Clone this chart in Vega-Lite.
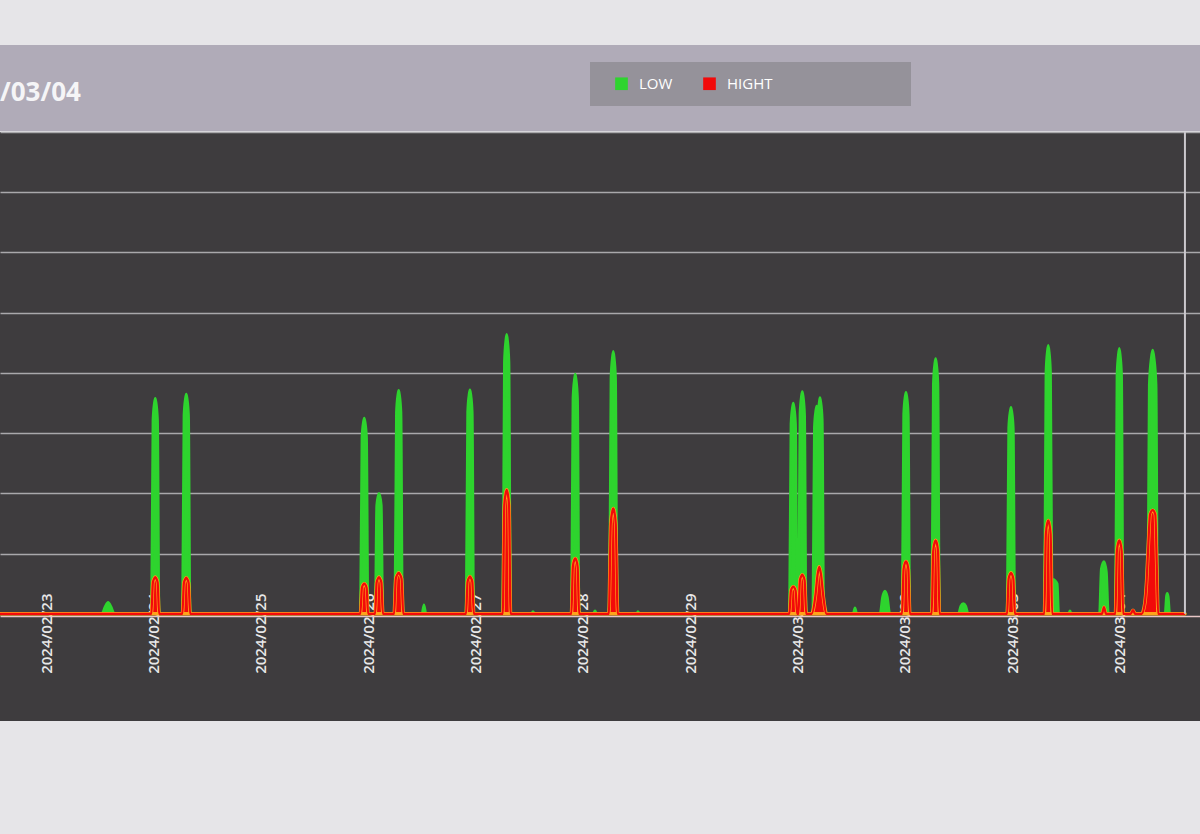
{
  "$schema": "https://vega.github.io/schema/vega-lite/v6.json",
  "background": "#e6e5e8",
  "padding": {"top": 45, "left": 0, "right": 0, "bottom": 114},
  "spacing": 0,
  "config": {"font": "Open Sans", "view": {"stroke": null}},
  "datasets": {
    "low": [
      {"t": "2024-02-22T12:00", "v": 0},
      {"t": "2024-02-23T12:25", "v": 0}, {"t": "2024-02-23T13:10", "v": 12}, {"t": "2024-02-23T13:50", "v": 19}, {"t": "2024-02-23T14:30", "v": 12}, {"t": "2024-02-23T15:15", "v": 0},
      {"t": "2024-02-23T23:31", "v": 0}, {"t": "2024-02-23T23:51", "v": 322}, {"t": "2024-02-24T00:11", "v": 351}, {"t": "2024-02-24T00:23", "v": 358}, {"t": "2024-02-24T00:35", "v": 351}, {"t": "2024-02-24T00:55", "v": 322}, {"t": "2024-02-24T01:15", "v": 0},
      {"t": "2024-02-24T06:27", "v": 0}, {"t": "2024-02-24T06:47", "v": 329}, {"t": "2024-02-24T07:07", "v": 358}, {"t": "2024-02-24T07:19", "v": 365}, {"t": "2024-02-24T07:31", "v": 358}, {"t": "2024-02-24T07:51", "v": 329}, {"t": "2024-02-24T08:11", "v": 0},
      {"t": "2024-02-25T22:15", "v": 0}, {"t": "2024-02-25T22:35", "v": 293}, {"t": "2024-02-25T22:55", "v": 319}, {"t": "2024-02-25T23:07", "v": 325}, {"t": "2024-02-25T23:19", "v": 319}, {"t": "2024-02-25T23:39", "v": 293}, {"t": "2024-02-25T23:59", "v": 0},
      {"t": "2024-02-26T01:33", "v": 0}, {"t": "2024-02-26T01:53", "v": 180}, {"t": "2024-02-26T02:13", "v": 196}, {"t": "2024-02-26T02:25", "v": 200}, {"t": "2024-02-26T02:37", "v": 196}, {"t": "2024-02-26T02:57", "v": 180}, {"t": "2024-02-26T03:17", "v": 0},
      {"t": "2024-02-26T05:57", "v": 0}, {"t": "2024-02-26T06:17", "v": 334}, {"t": "2024-02-26T06:37", "v": 364}, {"t": "2024-02-26T06:49", "v": 371}, {"t": "2024-02-26T07:01", "v": 364}, {"t": "2024-02-26T07:21", "v": 334}, {"t": "2024-02-26T07:41", "v": 0},
      {"t": "2024-02-26T12:00", "v": 0}, {"t": "2024-02-26T12:28", "v": 15}, {"t": "2024-02-26T12:56", "v": 0},
      {"t": "2024-02-26T21:53", "v": 0}, {"t": "2024-02-26T22:13", "v": 335}, {"t": "2024-02-26T22:33", "v": 365}, {"t": "2024-02-26T22:45", "v": 372}, {"t": "2024-02-26T22:57", "v": 365}, {"t": "2024-02-26T23:17", "v": 335}, {"t": "2024-02-26T23:37", "v": 0},
      {"t": "2024-02-27T06:06", "v": 0}, {"t": "2024-02-27T06:26", "v": 418}, {"t": "2024-02-27T06:46", "v": 455}, {"t": "2024-02-27T06:58", "v": 464}, {"t": "2024-02-27T07:10", "v": 455}, {"t": "2024-02-27T07:30", "v": 418}, {"t": "2024-02-27T07:50", "v": 0},
      {"t": "2024-02-27T12:30", "v": 0}, {"t": "2024-02-27T12:51", "v": 4}, {"t": "2024-02-27T13:12", "v": 0},
      {"t": "2024-02-27T21:26", "v": 0}, {"t": "2024-02-27T21:46", "v": 358}, {"t": "2024-02-27T22:06", "v": 390}, {"t": "2024-02-27T22:18", "v": 398}, {"t": "2024-02-27T22:30", "v": 390}, {"t": "2024-02-27T22:50", "v": 358}, {"t": "2024-02-27T23:10", "v": 0},
      {"t": "2024-02-28T02:20", "v": 0}, {"t": "2024-02-28T02:43", "v": 5}, {"t": "2024-02-28T03:06", "v": 0},
      {"t": "2024-02-28T05:56", "v": 0}, {"t": "2024-02-28T06:16", "v": 392}, {"t": "2024-02-28T06:36", "v": 427}, {"t": "2024-02-28T06:48", "v": 436}, {"t": "2024-02-28T07:00", "v": 427}, {"t": "2024-02-28T07:20", "v": 392}, {"t": "2024-02-28T07:40", "v": 0},
      {"t": "2024-02-28T12:00", "v": 0}, {"t": "2024-02-28T12:19", "v": 4}, {"t": "2024-02-28T12:40", "v": 0},
      {"t": "2024-02-29T22:11", "v": 0}, {"t": "2024-02-29T22:31", "v": 315}, {"t": "2024-02-29T22:51", "v": 343}, {"t": "2024-02-29T23:03", "v": 350}, {"t": "2024-02-29T23:15", "v": 343}, {"t": "2024-02-29T23:35", "v": 315}, {"t": "2024-02-29T23:55", "v": 0},
      {"t": "2024-03-01T00:12", "v": 0}, {"t": "2024-03-01T00:32", "v": 332}, {"t": "2024-03-01T00:52", "v": 362}, {"t": "2024-03-01T01:04", "v": 369}, {"t": "2024-03-01T01:16", "v": 362}, {"t": "2024-03-01T01:36", "v": 332}, {"t": "2024-03-01T01:56", "v": 0},
      {"t": "2024-03-01T03:25", "v": 0}, {"t": "2024-03-01T03:45", "v": 310}, {"t": "2024-03-01T04:05", "v": 338}, {"t": "2024-03-01T04:17", "v": 345}, {"t": "2024-03-01T04:32", "v": 332}, {"t": "2024-03-01T04:47", "v": 348}, {"t": "2024-03-01T05:01", "v": 359}, {"t": "2024-03-01T05:13", "v": 352}, {"t": "2024-03-01T05:33", "v": 323}, {"t": "2024-03-01T05:53", "v": 0},
      {"t": "2024-03-01T12:25", "v": 0}, {"t": "2024-03-01T12:51", "v": 10}, {"t": "2024-03-01T13:17", "v": 0},
      {"t": "2024-03-01T18:26", "v": 0}, {"t": "2024-03-01T19:00", "v": 28}, {"t": "2024-03-01T19:33", "v": 38}, {"t": "2024-03-01T20:06", "v": 28}, {"t": "2024-03-01T20:40", "v": 0},
      {"t": "2024-03-01T23:23", "v": 0}, {"t": "2024-03-01T23:43", "v": 331}, {"t": "2024-03-02T00:03", "v": 361}, {"t": "2024-03-02T00:15", "v": 368}, {"t": "2024-03-02T00:27", "v": 361}, {"t": "2024-03-02T00:47", "v": 331}, {"t": "2024-03-02T01:07", "v": 0},
      {"t": "2024-03-02T06:01", "v": 0}, {"t": "2024-03-02T06:21", "v": 382}, {"t": "2024-03-02T06:41", "v": 416}, {"t": "2024-03-02T06:53", "v": 424}, {"t": "2024-03-02T07:05", "v": 416}, {"t": "2024-03-02T07:25", "v": 382}, {"t": "2024-03-02T07:45", "v": 0},
      {"t": "2024-03-02T11:57", "v": 0}, {"t": "2024-03-02T12:30", "v": 13}, {"t": "2024-03-02T13:04", "v": 17}, {"t": "2024-03-02T13:38", "v": 13}, {"t": "2024-03-02T14:11", "v": 0},
      {"t": "2024-03-02T22:52", "v": 0}, {"t": "2024-03-02T23:12", "v": 309}, {"t": "2024-03-02T23:32", "v": 336}, {"t": "2024-03-02T23:44", "v": 343}, {"t": "2024-03-02T23:56", "v": 336}, {"t": "2024-03-03T00:16", "v": 309}, {"t": "2024-03-03T00:36", "v": 0},
      {"t": "2024-03-03T07:12", "v": 0}, {"t": "2024-03-03T07:32", "v": 401}, {"t": "2024-03-03T07:52", "v": 437}, {"t": "2024-03-03T08:04", "v": 446}, {"t": "2024-03-03T08:16", "v": 437}, {"t": "2024-03-03T08:36", "v": 401}, {"t": "2024-03-03T08:54", "v": 58}, {"t": "2024-03-03T09:30", "v": 56}, {"t": "2024-03-03T10:05", "v": 50}, {"t": "2024-03-03T10:25", "v": 0},
      {"t": "2024-03-03T12:35", "v": 0}, {"t": "2024-03-03T12:55", "v": 5}, {"t": "2024-03-03T13:15", "v": 0},
      {"t": "2024-03-03T19:30", "v": 0}, {"t": "2024-03-03T19:55", "v": 75}, {"t": "2024-03-03T20:32", "v": 87}, {"t": "2024-03-03T21:05", "v": 70}, {"t": "2024-03-03T21:32", "v": 0},
      {"t": "2024-03-03T23:05", "v": 0}, {"t": "2024-03-03T23:25", "v": 397}, {"t": "2024-03-03T23:45", "v": 432}, {"t": "2024-03-03T23:57", "v": 441}, {"t": "2024-03-04T00:09", "v": 432}, {"t": "2024-03-04T00:29", "v": 397}, {"t": "2024-03-04T00:49", "v": 0},
      {"t": "2024-03-04T06:18", "v": 0}, {"t": "2024-03-04T06:38", "v": 380}, {"t": "2024-03-04T07:05", "v": 425}, {"t": "2024-03-04T07:25", "v": 438}, {"t": "2024-03-04T07:45", "v": 425}, {"t": "2024-03-04T08:12", "v": 380}, {"t": "2024-03-04T08:32", "v": 0},
      {"t": "2024-03-04T10:10", "v": 0}, {"t": "2024-03-04T10:30", "v": 30}, {"t": "2024-03-04T10:41", "v": 34}, {"t": "2024-03-04T10:55", "v": 28}, {"t": "2024-03-04T11:15", "v": 0},
      {"t": "2024-03-04T14:38", "v": 0}
    ],
    "high": [
      {"t": "2024-02-22T12:00", "v": 0},
      {"t": "2024-02-23T23:31", "v": 0}, {"t": "2024-02-23T23:51", "v": 52}, {"t": "2024-02-24T00:11", "v": 59}, {"t": "2024-02-24T00:23", "v": 61}, {"t": "2024-02-24T00:35", "v": 59}, {"t": "2024-02-24T00:55", "v": 52}, {"t": "2024-02-24T01:15", "v": 0},
      {"t": "2024-02-24T06:27", "v": 0}, {"t": "2024-02-24T06:47", "v": 51}, {"t": "2024-02-24T07:07", "v": 58}, {"t": "2024-02-24T07:19", "v": 60}, {"t": "2024-02-24T07:31", "v": 58}, {"t": "2024-02-24T07:51", "v": 51}, {"t": "2024-02-24T08:11", "v": 0},
      {"t": "2024-02-25T22:15", "v": 0}, {"t": "2024-02-25T22:35", "v": 43}, {"t": "2024-02-25T22:55", "v": 49}, {"t": "2024-02-25T23:07", "v": 50}, {"t": "2024-02-25T23:19", "v": 49}, {"t": "2024-02-25T23:39", "v": 43}, {"t": "2024-02-25T23:59", "v": 0},
      {"t": "2024-02-26T01:33", "v": 0}, {"t": "2024-02-26T01:53", "v": 52}, {"t": "2024-02-26T02:13", "v": 59}, {"t": "2024-02-26T02:25", "v": 61}, {"t": "2024-02-26T02:37", "v": 59}, {"t": "2024-02-26T02:57", "v": 52}, {"t": "2024-02-26T03:17", "v": 0},
      {"t": "2024-02-26T05:48", "v": 0}, {"t": "2024-02-26T06:10", "v": 58}, {"t": "2024-02-26T06:30", "v": 65}, {"t": "2024-02-26T06:49", "v": 68}, {"t": "2024-02-26T07:08", "v": 65}, {"t": "2024-02-26T07:28", "v": 58}, {"t": "2024-02-26T07:50", "v": 0},
      {"t": "2024-02-26T21:53", "v": 0}, {"t": "2024-02-26T22:13", "v": 53}, {"t": "2024-02-26T22:33", "v": 60}, {"t": "2024-02-26T22:45", "v": 62}, {"t": "2024-02-26T22:57", "v": 60}, {"t": "2024-02-26T23:17", "v": 53}, {"t": "2024-02-26T23:37", "v": 0},
      {"t": "2024-02-27T06:06", "v": 0}, {"t": "2024-02-27T06:26", "v": 180}, {"t": "2024-02-27T06:46", "v": 201}, {"t": "2024-02-27T06:58", "v": 206}, {"t": "2024-02-27T07:10", "v": 201}, {"t": "2024-02-27T07:30", "v": 180}, {"t": "2024-02-27T07:50", "v": 0},
      {"t": "2024-02-27T21:26", "v": 0}, {"t": "2024-02-27T21:46", "v": 78}, {"t": "2024-02-27T22:06", "v": 90}, {"t": "2024-02-27T22:18", "v": 92}, {"t": "2024-02-27T22:30", "v": 90}, {"t": "2024-02-27T22:50", "v": 78}, {"t": "2024-02-27T23:10", "v": 0},
      {"t": "2024-02-28T05:48", "v": 0}, {"t": "2024-02-28T06:15", "v": 150}, {"t": "2024-02-28T06:36", "v": 171}, {"t": "2024-02-28T06:48", "v": 175}, {"t": "2024-02-28T07:00", "v": 171}, {"t": "2024-02-28T07:21", "v": 150}, {"t": "2024-02-28T07:48", "v": 0},
      {"t": "2024-02-29T22:11", "v": 0}, {"t": "2024-02-29T22:31", "v": 38}, {"t": "2024-02-29T22:51", "v": 44}, {"t": "2024-02-29T23:03", "v": 45}, {"t": "2024-02-29T23:15", "v": 44}, {"t": "2024-02-29T23:35", "v": 38}, {"t": "2024-02-29T23:55", "v": 0},
      {"t": "2024-03-01T00:12", "v": 0}, {"t": "2024-03-01T00:32", "v": 55}, {"t": "2024-03-01T00:52", "v": 63}, {"t": "2024-03-01T01:04", "v": 65}, {"t": "2024-03-01T01:16", "v": 63}, {"t": "2024-03-01T01:36", "v": 55}, {"t": "2024-03-01T01:56", "v": 0},
      {"t": "2024-03-01T03:10", "v": 0}, {"t": "2024-03-01T04:00", "v": 30}, {"t": "2024-03-01T04:30", "v": 66}, {"t": "2024-03-01T04:52", "v": 78}, {"t": "2024-03-01T05:15", "v": 66}, {"t": "2024-03-01T05:45", "v": 30}, {"t": "2024-03-01T06:30", "v": 0},
      {"t": "2024-03-01T23:23", "v": 0}, {"t": "2024-03-01T23:43", "v": 74}, {"t": "2024-03-02T00:03", "v": 85}, {"t": "2024-03-02T00:15", "v": 87}, {"t": "2024-03-02T00:27", "v": 85}, {"t": "2024-03-02T00:47", "v": 74}, {"t": "2024-03-02T01:07", "v": 0},
      {"t": "2024-03-02T06:01", "v": 0}, {"t": "2024-03-02T06:21", "v": 104}, {"t": "2024-03-02T06:41", "v": 119}, {"t": "2024-03-02T06:53", "v": 122}, {"t": "2024-03-02T07:05", "v": 119}, {"t": "2024-03-02T07:25", "v": 104}, {"t": "2024-03-02T07:45", "v": 0},
      {"t": "2024-03-02T22:52", "v": 0}, {"t": "2024-03-02T23:12", "v": 58}, {"t": "2024-03-02T23:32", "v": 66}, {"t": "2024-03-02T23:44", "v": 68}, {"t": "2024-03-02T23:56", "v": 66}, {"t": "2024-03-03T00:16", "v": 58}, {"t": "2024-03-03T00:36", "v": 0},
      {"t": "2024-03-03T07:12", "v": 0}, {"t": "2024-03-03T07:32", "v": 132}, {"t": "2024-03-03T07:52", "v": 151}, {"t": "2024-03-03T08:04", "v": 155}, {"t": "2024-03-03T08:16", "v": 151}, {"t": "2024-03-03T08:36", "v": 132}, {"t": "2024-03-03T08:56", "v": 0},
      {"t": "2024-03-03T20:05", "v": 0}, {"t": "2024-03-03T20:32", "v": 11}, {"t": "2024-03-03T20:59", "v": 0},
      {"t": "2024-03-03T23:05", "v": 0}, {"t": "2024-03-03T23:25", "v": 104}, {"t": "2024-03-03T23:45", "v": 119}, {"t": "2024-03-03T23:57", "v": 122}, {"t": "2024-03-04T00:09", "v": 119}, {"t": "2024-03-04T00:29", "v": 104}, {"t": "2024-03-04T00:49", "v": 0},
      {"t": "2024-03-04T02:30", "v": 0}, {"t": "2024-03-04T03:01", "v": 6}, {"t": "2024-03-04T03:30", "v": 0},
      {"t": "2024-03-04T04:58", "v": 0}, {"t": "2024-03-04T05:40", "v": 18}, {"t": "2024-03-04T06:04", "v": 55}, {"t": "2024-03-04T06:25", "v": 110}, {"t": "2024-03-04T06:50", "v": 165}, {"t": "2024-03-04T07:25", "v": 172}, {"t": "2024-03-04T08:00", "v": 165}, {"t": "2024-03-04T08:20", "v": 80}, {"t": "2024-03-04T08:38", "v": 0},
      {"t": "2024-03-04T14:38", "v": 0}
    ]
  },
  "vconcat": [
    {
      "width": 1200,
      "height": 86,
      "view": {"fill": "#b0abb8", "stroke": null},
      "title": {"text": "/03/04", "anchor": "start", "orient": "top", "offset": -61, "fontSize": 26, "fontWeight": "bold", "color": "#f5f5f7", "baseline": "top", "font": "Open Sans"},
      "data": {"values": [{"k": 1}]},
      "mark": {"type": "point", "opacity": 0},
      "encoding": {}
    },
    {
      "width": 1200,
      "height": 589,
      "view": {"fill": "#3e3c3e", "stroke": null},
      "layer": [
        {
          "data": {"name": "low"},
          "mark": {"type": "area", "interpolate": "monotone", "stroke": "#2ed42e", "strokeWidth": 2.5, "strokeJoin": "round", "clip": true},
          "encoding": {
            "x": {"field": "t", "type": "temporal",
              "scale": {"domain": [{"year": 2024, "month": 2, "date": 22, "hours": 13, "minutes": 40}, {"year": 2024, "month": 3, "date": 4, "hours": 18, "minutes": 0}], "nice": false},
              "axis": {"title": null, "format": "%Y/%m/%d", "tickCount": {"interval": "day", "step": 1}, "labelAngle": -90, "labelPadding": -23, "ticks": false, "tickSize": 0, "grid": false, "offset": -105, "domain": true, "domainColor": "#e8c6c6", "domainWidth": 1.5, "labelColor": "#e8e8e8", "labelFontSize": 15, "labelFontWeight": 600, "labelFont": "Open Sans", "labelOverlap": false, "labelFlush": false, "minExtent": 0, "maxExtent": 0}},
            "y": {"field": "v", "type": "quantitative",
              "scale": {"domain": [-178, 800], "nice": false, "zero": false},
              "axis": {"title": null, "values": [100, 200, 300, 400, 500, 600, 700, 800], "grid": true, "gridColor": "#a9a8ab", "gridWidth": 1.5, "labels": false, "ticks": false, "domain": false, "minExtent": 0, "maxExtent": 0}},
            "y2": {"datum": 0},
            "color": {"datum": "LOW", "type": "nominal",
              "scale": {"domain": ["LOW", "HIGHT"], "range": ["#2ed42e", "#f20a0a"]},
              "legend": {"orient": "none", "legendX": 590, "legendY": 17, "direction": "horizontal", "title": " ", "titleOrient": "right", "titlePadding": 125, "titleFontSize": 15, "fillColor": "#95929a", "padding": 14, "symbolType": "square", "symbolSize": 160, "symbolStrokeWidth": 0, "symbolOffset": 10, "labelColor": "#ffffff", "labelFontSize": 15, "labelFont": "Open Sans", "columnPadding": 19, "labelOffset": 10}}
          }
        },
        {
          "data": {"name": "high"},
          "mark": {"type": "area", "interpolate": "monotone", "stroke": "#ffa31a", "strokeWidth": 3.5, "strokeJoin": "round", "clip": true},
          "encoding": {
            "x": {"field": "t", "type": "temporal"},
            "y": {"field": "v", "type": "quantitative"},
            "y2": {"datum": 0},
            "color": {"datum": "HIGHT", "type": "nominal"}
          }
        },
        {
          "data": {"name": "high"},
          "mark": {"type": "line", "interpolate": "monotone", "color": "#f20a0a", "strokeWidth": 2.2, "clip": true},
          "encoding": {
            "x": {"field": "t", "type": "temporal"},
            "y": {"field": "v", "type": "quantitative"}
          }
        },
        {
          "data": {"values": [{"k": 1}]},
          "mark": {"type": "rule", "color": "#cac8cd", "strokeWidth": 2},
          "encoding": {
            "x": {"datum": {"year": 2024, "month": 3, "date": 4, "hours": 14, "minutes": 38}},
            "y": {"datum": 0},
            "y2": {"datum": 800}
          }
        }
      ]
    }
  ]
}
